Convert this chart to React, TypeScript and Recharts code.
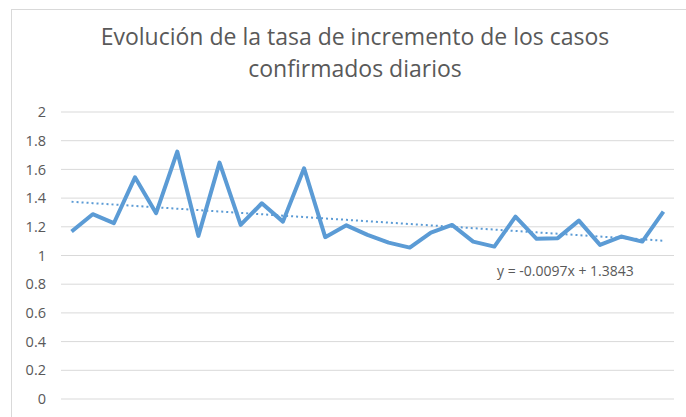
import { LineChart, Line, XAxis, YAxis, CartesianGrid } from "recharts";

const dias = [
  1, 2, 3, 4, 5, 6, 7, 8, 9, 10, 11, 12, 13, 14, 15, 16, 17, 18, 19, 20, 21,
  22, 23, 24, 25, 26, 27, 28, 29,
];
const tasa = [
  1.167, 1.288, 1.225, 1.545, 1.295, 1.724, 1.137, 1.647, 1.213, 1.364, 1.236,
  1.608, 1.128, 1.21, 1.144, 1.09, 1.055, 1.16, 1.213, 1.097, 1.062, 1.271,
  1.116, 1.121, 1.243, 1.074, 1.132, 1.097, 1.306,
];
const yTicks = [0, 0.2, 0.4, 0.6, 0.8, 1, 1.2, 1.4, 1.6, 1.8, 2];

// trendline as shown in the chart's equation label
const pendiente = -0.0097;
const intercepto = 1.3843;
const ecuacion = "y = -0.0097x + 1.3843";

const titulo = [
  "Evolución de la tasa de incremento de los casos",
  "confirmados diarios",
];

const data = dias.map((d, i) => ({
  dia: d,
  tasa: tasa[i],
  tendencia: pendiente * d + intercepto,
}));

const font = "'Open Sans', sans-serif";
const gray = "#595959";

export default function App() {
  return (
    <div
      style={{
        position: "absolute",
        left: 0,
        top: 0,
        width: 686,
        height: 417,
        overflow: "hidden",
        background: "#fff",
        fontFamily: font,
      }}
    >
      <div
        style={{
          position: "absolute",
          left: 11,
          top: 9,
          width: 800,
          height: 600,
          border: "1px solid #d9d9d9",
        }}
      />
      <div
        style={{
          position: "absolute",
          left: 0,
          top: 20,
          width: 710,
          textAlign: "center",
          fontSize: 23,
          lineHeight: "32px",
          color: gray,
        }}
      >
        {titulo.map((t) => (
          <div key={t}>{t}</div>
        ))}
      </div>
      <LineChart
        width={686}
        height={417}
        data={data}
        margin={{ top: 112, right: 12, bottom: 18, left: 0 }}
        style={{ position: "absolute", left: 0, top: 0 }}
      >
        <CartesianGrid vertical={false} stroke="#d9d9d9" strokeWidth={1} />
        <XAxis
          dataKey="dia"
          type="number"
          domain={[0.5, 29.5]}
          hide
        />
        <YAxis
          width={61}
          domain={[0, 2]}
          ticks={yTicks}
          axisLine={false}
          tickLine={false}
          tickSize={0}
          tickMargin={15}
          tick={{ fill: gray, fontSize: 14.5, fontFamily: font }}
        />
        <Line
          dataKey="tendencia"
          stroke="#5b9bd5"
          strokeWidth={2}
          strokeDasharray="2 3"
          dot={false}
          isAnimationActive={false}
        />
        <Line
          dataKey="tasa"
          type="linear"
          stroke="#5b9bd5"
          strokeWidth={4}
          strokeLinejoin="round"
          dot={false}
          isAnimationActive={false}
        />
      </LineChart>
      <div
        style={{
          position: "absolute",
          left: 497,
          top: 261,
          fontSize: 14,
          color: gray,
          whiteSpace: "nowrap",
        }}
      >
        {ecuacion}
      </div>
    </div>
  );
}
